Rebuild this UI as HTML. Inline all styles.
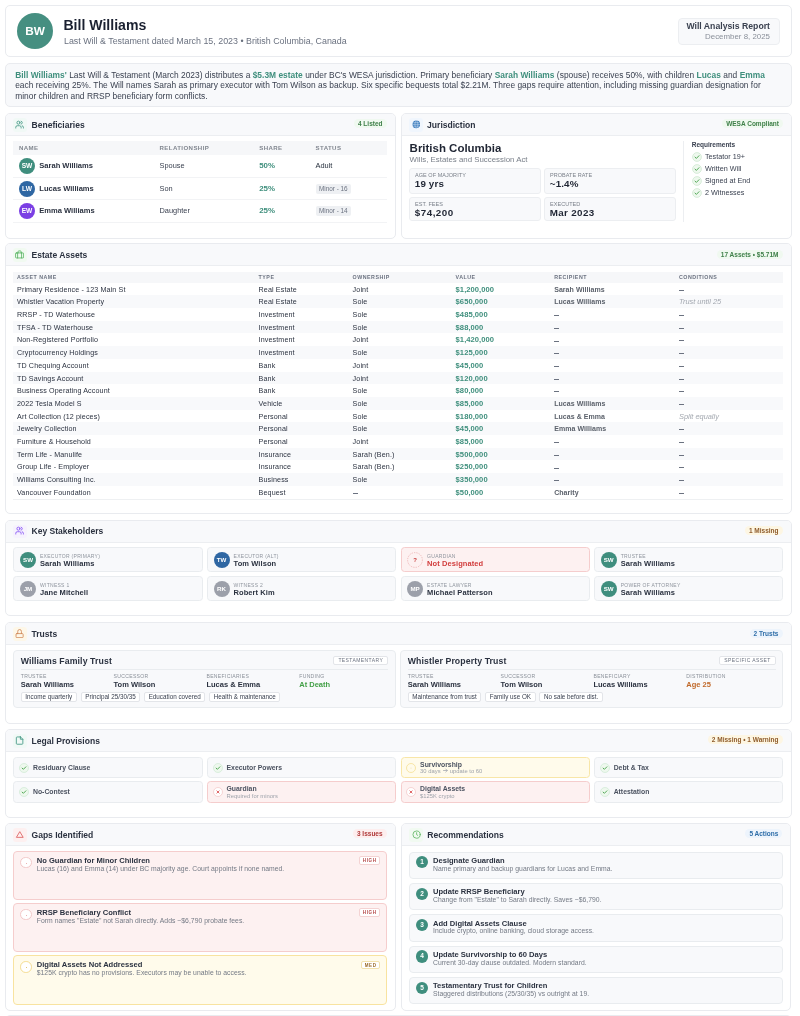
<!DOCTYPE html>
<html><head><meta charset="utf-8">
<style>
*{box-sizing:border-box;margin:0;padding:0}
html,body{width:800px;height:1016px;overflow:hidden;background:#fff}
body{font-family:"Liberation Sans",sans-serif;color:#1f2937;position:relative;will-change:transform}
.card{position:absolute;background:#fff;border:1px solid #e9ebef;border-radius:5px;overflow:hidden}
.ch{position:absolute;left:0;right:0;top:0;height:21.9px;background:#f8f9fb;border-bottom:1px solid #eceef1}
.ch .ic{position:absolute;left:6.6px;top:4.1px;width:14px;height:13.5px;border-radius:3px}
.ch .ic svg{position:absolute;left:2.1px;top:1.7px;width:9.2px;height:9.2px}
.ch .tt{position:absolute;left:25.5px;top:-0.45px;line-height:22px;font-size:8.55px;font-weight:bold;color:#2b3240}
.badge{position:absolute;right:8px;top:5.2px;height:9px;line-height:9px;border-radius:5px;font-size:6.5px;font-weight:bold;padding:0 4px}
.abs{position:absolute;white-space:nowrap}
.gp{position:absolute;left:7.25px;width:373.65px;height:49.3px;border:1px solid #f5cdcd;background:#fdf1f1;border-radius:4px;white-space:nowrap}
.gp.y{background:#fffbeb;border-color:#f8e3a0}
.gp .gc{position:absolute;left:6px;top:4.7px;width:11.6px;height:11.6px;border-radius:50%;background:#fff;border:0.8px solid #f3c9c9}
.gp.y .gc{border-color:#f5dd92}
.gp .gc i{position:absolute;left:4.9px;top:4.9px;width:1px;height:1px;border-radius:50%;background:#e79a9a}
.gp.y .gc i{background:#d9b24a}
.gt{position:absolute;left:22.5px;top:3.5px;line-height:10px;font-size:7.59px;font-weight:bold;color:#2b3240}
.gs{position:absolute;left:22.5px;top:12.5px;line-height:8px;font-size:6.8px;letter-spacing:0.03px;color:#747a85}
.gp .gb{position:absolute;right:5.5px;top:4.3px;height:8.4px;line-height:7px;padding:0 2.8px;background:#fff;border:0.7px solid #f4d3d3;border-radius:2px;font-size:4.5px;font-weight:bold;letter-spacing:0.64px;color:#b54848}
.gp.y .gb{border-color:#f3e2ad;color:#9a6a2a}
.rc{position:absolute;left:7.6px;width:374px;height:27.6px;background:#f8f9fb;border:1px solid #e9ecef;border-radius:4px;white-space:nowrap}
.rc .rn{position:absolute;left:5.5px;top:3.8px;width:12.2px;height:12.2px;border-radius:50%;background:#3f8e7e;color:#fff;font-size:6.5px;font-weight:bold;line-height:12.2px;text-align:center}
.rc .gt{left:22.6px;top:3.4px}
.rc .gs{left:22.6px;top:12.3px}

.lg{position:absolute;width:189.3px;height:21.2px;background:#f8f9fb;border:1px solid #e9ecef;border-radius:3.5px;white-space:nowrap}
.lg svg{position:absolute;left:4.6px;top:4.6px}
.lg .t1{position:absolute;left:18.6px;top:0;line-height:19.2px;font-size:6.85px;font-weight:bold;color:#4b5260}
.lg .t2{position:absolute;left:18.6px;top:2.0px;line-height:9px;font-size:6.85px;font-weight:bold;color:#4b5260}
.lg .s2{position:absolute;left:18.6px;top:10.5px;line-height:7px;font-size:5.85px;color:#9ea3ab}
.lg.r{background:#fdf1f1;border-color:#f5cdcd}
.lg.y{background:#fffbeb;border-color:#f8e6a8}

.tb{position:absolute;top:27.1px;height:57.3px;background:#f8f9fb;border:1px solid #e9ecef;border-radius:4px;white-space:nowrap}
.tb .tt2{position:absolute;left:6.5px;top:4.3px;line-height:11px;font-size:8.73px;letter-spacing:0.1px;font-weight:bold;color:#2b3240}
.tb .tbadge{position:absolute;right:6.4px;top:4.8px;height:9px;line-height:7.6px;padding:0 4.2px;background:#fff;border:0.7px solid #e3e5e9;border-radius:2px;font-size:5px;letter-spacing:0.42px;color:#6b7280}
.tb .tdiv{position:absolute;left:6.5px;right:6.4px;top:17.2px;height:0.8px;background:#e9ecef}
.tb .tl{position:absolute;top:21.5px;line-height:6.5px;font-size:5.1px;letter-spacing:0.3px;color:#8a9099}
.tb .tv{position:absolute;top:28.2px;line-height:10px;font-size:7.5px;font-weight:bold;color:#2b3240}
.tb .tags{position:absolute;left:6.5px;top:41px;height:9.2px;display:flex;gap:3.8px}
.tb .tags span{display:block;height:9.2px;line-height:8px;padding:0 3.6px;background:#fff;border:0.7px solid #e3e5e9;border-radius:2px;font-size:6.3px;color:#3a4150}

.sk{position:absolute;width:189.3px;height:25.2px;background:#f8f9fb;border:1px solid #e9ecef;border-radius:3.5px;white-space:nowrap}
.sk .av{position:absolute;left:5.6px;top:3.7px;width:16px;height:16px;border-radius:50%;color:#fff;font-size:6.2px;font-weight:bold;line-height:16px;text-align:center}
.sk .lb{position:absolute;left:25.6px;top:4.4px;line-height:7px;font-size:5.0px;letter-spacing:0.28px;color:#8f959e}
.sk .nm{position:absolute;left:25.6px;top:10.3px;line-height:9px;font-size:7.5px;letter-spacing:0.08px;font-weight:bold;color:#2b3240}
.sk.red{background:#fdf1f1;border-color:#f5cdcd}
.sk.red .nm{color:#d13c3c}
.sk .av.q{background:none;color:#c73b3b;font-size:6px;line-height:16px}

.eth{position:absolute;top:27.6px;line-height:10.7px;font-size:5.3px;font-weight:bold;letter-spacing:0.5px;color:#6b7280;white-space:nowrap}
.erow{position:absolute;left:7px;width:770px;height:12.7px;white-space:nowrap}
.erow div{position:absolute;top:0;line-height:14.3px;font-size:7.15px;letter-spacing:0.12px;color:#2b3240}
.erow .c1{left:4px}.erow .c2{left:245.6px}.erow .c3{left:339.6px}
.erow .c4{left:442.6px;font-weight:bold;color:#3f8f7d;font-size:7.6px;letter-spacing:0.05px}
.erow .c5{left:541.2px;font-weight:bold;color:#5b616b;font-size:7.0px;letter-spacing:0.05px}
.erow .c6{left:666px}
.erow .it{font-style:italic;color:#a3a8b0;font-size:7.4px;letter-spacing:0}
.dsh{display:inline-block;width:5px;height:0.8px;background:#6b7280;vertical-align:middle;position:relative;top:0.3px}

.sbox{position:absolute;width:131.2px;background:#f8f9fb;border:1px solid #eceef1;border-radius:3px}
.sbox .sl{position:absolute;left:4.6px;top:1.9px;font-size:5.5px;letter-spacing:0.05px;color:#7a808a;line-height:8px;white-space:nowrap}
.sbox .sv{position:absolute;left:4.4px;top:8.9px;font-size:9.8px;letter-spacing:0.15px;font-weight:bold;color:#1f2533;line-height:11px;white-space:nowrap}
.req{position:absolute;left:290px;height:10px;white-space:nowrap}
.req svg{position:absolute;left:0;top:0}
.req span{position:absolute;left:13.4px;top:0;line-height:10px;font-size:7.23px;color:#3a4150}

.th{position:absolute;white-space:nowrap;font-size:6.1px;letter-spacing:0.4px;color:#80868f;font-weight:bold}
.brow{position:absolute;left:7px;width:374px;height:22.5px;border-bottom:1px solid #f2f3f5}
.brow .av{position:absolute;left:6px;top:3.2px;width:16px;height:16px;border-radius:50%;color:#fff;font-size:6.6px;font-weight:bold;line-height:16px;text-align:center}
.brow .nm{position:absolute;left:26.3px;top:0;line-height:22px;font-size:7.55px;font-weight:bold;color:#2b3240;white-space:nowrap}
.brow .rel{position:absolute;left:146.5px;top:0;line-height:22px;font-size:7.4px;color:#3a4150;white-space:nowrap}
.brow .sh{position:absolute;left:246.2px;top:0;line-height:22px;font-size:7.9px;font-weight:bold;color:#3f8f7d;white-space:nowrap}
.brow .st{position:absolute;left:302.5px;top:0;line-height:22px;font-size:7.4px;color:#1f2937;white-space:nowrap}
.brow .pill{position:absolute;left:302.5px;top:6.3px;height:9.5px;line-height:10.6px;padding:0 3.4px;border-radius:2px;background:#eef0f3;font-size:6.4px;color:#6b7280;white-space:nowrap}

</style></head><body>

<!-- Header -->
<div class="card" style="left:5px;top:4.5px;width:786.5px;height:52.5px;">
  <div class="abs" style="left:11px;top:7.5px;width:36px;height:36px;border-radius:50%;background:#468f81;color:#fff;font-weight:bold;font-size:11.8px;line-height:36px;text-align:center;">BW</div>
  <div class="abs" style="left:57.4px;top:11.6px;font-size:14.1px;font-weight:bold;color:#1a2030;line-height:16px">Bill Williams</div>
  <div class="abs" style="left:58px;top:30px;font-size:8.9px;color:#6b7280;line-height:10px">Last Will &amp; Testament dated March 15, 2023 • British Columbia, Canada</div>
  <div class="abs" style="left:672px;top:12px;width:102px;height:27px;background:#f8f9fb;border:1px solid #eceef1;border-radius:4px;">
    <div class="abs" style="right:9px;top:2.8px;font-size:8.7px;font-weight:bold;color:#3a4150;line-height:10px">Will Analysis Report</div>
    <div class="abs" style="right:9px;top:13px;font-size:7.9px;color:#8a909a;line-height:9px">December 8, 2025</div>
  </div>
</div>

<!-- Summary -->
<div class="card" style="left:5px;top:63.3px;width:786.5px;height:44px;background:#f8f9fb;">
  <div class="abs" style="left:9.2px;top:5.9px;width:764px;white-space:normal;font-size:8.4px;letter-spacing:0.025px;line-height:10.3px;color:#3a4150">
  <b style="color:#3f8f7d">Bill Williams'</b> Last Will &amp; Testament (March 2023) distributes a <b style="color:#3f8f7d">$5.3M estate</b> under BC's WESA jurisdiction. Primary beneficiary <b style="color:#3f8f7d">Sarah Williams</b> (spouse) receives 50%, with children <b style="color:#3f8f7d">Lucas</b> and <b style="color:#3f8f7d">Emma</b> each receiving 25%. The Will names Sarah as primary executor with Tom Wilson as backup. Six specific bequests total $2.21M. Three gaps require attention, including missing guardian designation for minor children and RRSP beneficiary form conflicts.
  </div>
</div>

<!-- BENEFICIARIES -->
<div class="card" style="left:5px;top:113.3px;width:390.5px;height:125.6px;" id="ben">
  <div class="ch"><div class="ic" style="background:#f1f9f6"><svg viewBox="0 0 24 24" fill="none" stroke="#4f9e8c" stroke-width="2.4" stroke-linecap="round" stroke-linejoin="round"><path d="M16 21v-2a4 4 0 0 0-4-4H6a4 4 0 0 0-4 4v2"/><circle cx="9" cy="7" r="4"/><path d="M22 21v-2a4 4 0 0 0-3-3.87"/><path d="M16 3.13a4 4 0 0 1 0 7.75"/></svg></div><div class="tt">Beneficiaries</div>
  <div class="badge" style="background:#f0f9f0;color:#3f8049">4 Listed</div></div>

  <div class="abs" style="left:7px;top:27px;width:374px;height:13.5px;background:#f6f7f9;"></div>
  <div class="th" style="left:13px;top:27px;line-height:13.5px">NAME</div>
  <div class="th" style="left:153.5px;top:27px;line-height:13.5px">RELATIONSHIP</div>
  <div class="th" style="left:253.2px;top:27px;line-height:13.5px">SHARE</div>
  <div class="th" style="left:309.5px;top:27px;line-height:13.5px">STATUS</div>
  <div class="brow" style="top:40.4px;height:23.2px"><div class="av" style="background:#3f8e7e">SW</div><div class="nm">Sarah Williams</div><div class="rel">Spouse</div><div class="sh">50%</div><div class="st">Adult</div></div>
  <div class="brow" style="top:63.6px;height:22.2px"><div class="av" style="background:#2f67a3">LW</div><div class="nm">Lucas Williams</div><div class="rel">Son</div><div class="sh">25%</div><div class="pill">Minor - 16</div></div>
  <div class="brow" style="top:85.8px;height:22.6px"><div class="av" style="background:#7b3fe4">EW</div><div class="nm">Emma Williams</div><div class="rel">Daughter</div><div class="sh">25%</div><div class="pill">Minor - 14</div></div>
</div>

<!-- JURISDICTION -->
<div class="card" style="left:400.6px;top:113.3px;width:391.4px;height:125.6px;" id="jur">
  <div class="ch"><div class="ic" style="background:#f0f6fd;left:7.4px"><svg viewBox="0 0 24 24" style="left:2.7px;top:2px;width:8.8px;height:8.8px"><circle cx="12" cy="12" r="10.5" fill="#3f7fc0"/><g stroke="#dce9f7" stroke-width="1.3" fill="none"><path d="M1.5 12h21"/><path d="M3.5 7.2h17M3.5 16.8h17"/><path d="M12 1.5c-3 3-4 6.5-4 10.5s1 7.5 4 10.5c3-3 4-6.5 4-10.5s-1-7.5-4-10.5z"/></g></svg></div><div class="tt">Jurisdiction</div>
  <div class="badge" style="background:#f0f9f0;color:#3f8049">WESA Compliant</div></div>

  <div class="abs" style="left:8px;top:26.5px;font-size:11.47px;font-weight:bold;color:#1f2533;line-height:14px">British Columbia</div>
  <div class="abs" style="left:8px;top:41.2px;font-size:7.86px;color:#7a808a;line-height:10px">Wills, Estates and Succession Act</div>
  <div class="sbox" style="left:7.8px;top:54.1px;height:25.2px"><div class="sl">AGE OF MAJORITY</div><div class="sv">19 yrs</div></div>
  <div class="sbox" style="left:142.8px;top:54.1px;height:25.2px"><div class="sl">PROBATE RATE</div><div class="sv">~1.4%</div></div>
  <div class="sbox" style="left:7.8px;top:83.1px;height:24px"><div class="sl" style="top:1.4px">EST. FEES</div><div class="sv" style="top:8.2px;letter-spacing:0.5px">$74,200</div></div>
  <div class="sbox" style="left:142.8px;top:83.1px;height:24px"><div class="sl" style="top:1.4px">EXECUTED</div><div class="sv" style="top:8.2px;letter-spacing:0.35px">Mar 2023</div></div>
  <div class="abs" style="left:281.5px;top:26.7px;width:1px;height:81px;background:#eceef1"></div>
  <div class="abs" style="left:290.2px;top:27.2px;font-size:6.5px;font-weight:bold;color:#3a4150;line-height:8px">Requirements</div>
  <div class="req" style="top:38.2px"><svg viewBox="0 0 10 10" width="10" height="10"><circle cx="5" cy="5" r="4.4" fill="#eef8ee" stroke="#cfe9d2" stroke-width="0.8"/><path d="M3 5.1 L4.4 6.4 L7 3.7" fill="none" stroke="#43a047" stroke-width="0.9" stroke-linecap="round" stroke-linejoin="round"/></svg><span>Testator 19+</span></div>
  <div class="req" style="top:50.2px"><svg viewBox="0 0 10 10" width="10" height="10"><circle cx="5" cy="5" r="4.4" fill="#eef8ee" stroke="#cfe9d2" stroke-width="0.8"/><path d="M3 5.1 L4.4 6.4 L7 3.7" fill="none" stroke="#43a047" stroke-width="0.9" stroke-linecap="round" stroke-linejoin="round"/></svg><span>Written Will</span></div>
  <div class="req" style="top:62.2px"><svg viewBox="0 0 10 10" width="10" height="10"><circle cx="5" cy="5" r="4.4" fill="#eef8ee" stroke="#cfe9d2" stroke-width="0.8"/><path d="M3 5.1 L4.4 6.4 L7 3.7" fill="none" stroke="#43a047" stroke-width="0.9" stroke-linecap="round" stroke-linejoin="round"/></svg><span>Signed at End</span></div>
  <div class="req" style="top:73.9px"><svg viewBox="0 0 10 10" width="10" height="10"><circle cx="5" cy="5" r="4.4" fill="#eef8ee" stroke="#cfe9d2" stroke-width="0.8"/><path d="M3 5.1 L4.4 6.4 L7 3.7" fill="none" stroke="#43a047" stroke-width="0.9" stroke-linecap="round" stroke-linejoin="round"/></svg><span>2 Witnesses</span></div>
</div>

<!-- ESTATE -->
<div class="card" style="left:5px;top:243.4px;width:786.5px;height:270.4px;" id="est">
  <div class="ch"><div class="ic" style="background:#f1faf1"><svg viewBox="0 0 24 24" fill="none" stroke="#4caf58" stroke-width="2" stroke-linecap="round" stroke-linejoin="round"><rect x="1.5" y="7.6" width="21" height="13.2" rx="2"/><path d="M8 7.6V4.4a2 2 0 0 1 2-2h4a2 2 0 0 1 2 2v3.2"/><path d="M6.8 7.6v13.2M17.2 7.6v13.2"/></svg></div><div class="tt">Estate Assets</div>
  <div class="badge" style="background:#f0f9f0;color:#3f8049">17 Assets • $5.71M</div></div>

  <div class="abs" style="left:7px;top:27.6px;width:770px;height:10.7px;background:#f6f7f9;"></div>
  <div class="eth" style="left:11px">ASSET NAME</div>
  <div class="eth" style="left:252.6px">TYPE</div>
  <div class="eth" style="left:346.6px">OWNERSHIP</div>
  <div class="eth" style="left:449.6px">VALUE</div>
  <div class="eth" style="left:548.2px">RECIPIENT</div>
  <div class="eth" style="left:673px">CONDITIONS</div>
  <div class="erow" style="top:38.3px;"><div class="c1">Primary Residence - 123 Main St</div><div class="c2">Real Estate</div><div class="c3">Joint</div><div class="c4">$1,200,000</div><div class="c5">Sarah Williams</div><div class="c6"><i class="dsh"></i></div></div>
  <div class="erow" style="top:51.0px;background:#f8f9fb;"><div class="c1">Whistler Vacation Property</div><div class="c2">Real Estate</div><div class="c3">Sole</div><div class="c4">$650,000</div><div class="c5">Lucas Williams</div><div class="c6 it">Trust until 25</div></div>
  <div class="erow" style="top:63.7px;"><div class="c1">RRSP - TD Waterhouse</div><div class="c2">Investment</div><div class="c3">Sole</div><div class="c4">$485,000</div><div class="c5"><i class="dsh"></i></div><div class="c6"><i class="dsh"></i></div></div>
  <div class="erow" style="top:76.4px;background:#f8f9fb;"><div class="c1">TFSA - TD Waterhouse</div><div class="c2">Investment</div><div class="c3">Sole</div><div class="c4">$88,000</div><div class="c5"><i class="dsh"></i></div><div class="c6"><i class="dsh"></i></div></div>
  <div class="erow" style="top:89.1px;"><div class="c1">Non-Registered Portfolio</div><div class="c2">Investment</div><div class="c3">Joint</div><div class="c4">$1,420,000</div><div class="c5"><i class="dsh"></i></div><div class="c6"><i class="dsh"></i></div></div>
  <div class="erow" style="top:101.8px;background:#f8f9fb;"><div class="c1">Cryptocurrency Holdings</div><div class="c2">Investment</div><div class="c3">Sole</div><div class="c4">$125,000</div><div class="c5"><i class="dsh"></i></div><div class="c6"><i class="dsh"></i></div></div>
  <div class="erow" style="top:114.5px;"><div class="c1">TD Chequing Account</div><div class="c2">Bank</div><div class="c3">Joint</div><div class="c4">$45,000</div><div class="c5"><i class="dsh"></i></div><div class="c6"><i class="dsh"></i></div></div>
  <div class="erow" style="top:127.2px;background:#f8f9fb;"><div class="c1">TD Savings Account</div><div class="c2">Bank</div><div class="c3">Joint</div><div class="c4">$120,000</div><div class="c5"><i class="dsh"></i></div><div class="c6"><i class="dsh"></i></div></div>
  <div class="erow" style="top:139.9px;"><div class="c1">Business Operating Account</div><div class="c2">Bank</div><div class="c3">Sole</div><div class="c4">$80,000</div><div class="c5"><i class="dsh"></i></div><div class="c6"><i class="dsh"></i></div></div>
  <div class="erow" style="top:152.6px;background:#f8f9fb;"><div class="c1">2022 Tesla Model S</div><div class="c2">Vehicle</div><div class="c3">Sole</div><div class="c4">$85,000</div><div class="c5">Lucas Williams</div><div class="c6"><i class="dsh"></i></div></div>
  <div class="erow" style="top:165.3px;"><div class="c1">Art Collection (12 pieces)</div><div class="c2">Personal</div><div class="c3">Sole</div><div class="c4">$180,000</div><div class="c5">Lucas &amp; Emma</div><div class="c6 it">Split equally</div></div>
  <div class="erow" style="top:178.0px;background:#f8f9fb;"><div class="c1">Jewelry Collection</div><div class="c2">Personal</div><div class="c3">Sole</div><div class="c4">$45,000</div><div class="c5">Emma Williams</div><div class="c6"><i class="dsh"></i></div></div>
  <div class="erow" style="top:190.7px;"><div class="c1">Furniture &amp; Household</div><div class="c2">Personal</div><div class="c3">Joint</div><div class="c4">$85,000</div><div class="c5"><i class="dsh"></i></div><div class="c6"><i class="dsh"></i></div></div>
  <div class="erow" style="top:203.4px;background:#f8f9fb;"><div class="c1">Term Life - Manulife</div><div class="c2">Insurance</div><div class="c3">Sarah (Ben.)</div><div class="c4">$500,000</div><div class="c5"><i class="dsh"></i></div><div class="c6"><i class="dsh"></i></div></div>
  <div class="erow" style="top:216.1px;"><div class="c1">Group Life - Employer</div><div class="c2">Insurance</div><div class="c3">Sarah (Ben.)</div><div class="c4">$250,000</div><div class="c5"><i class="dsh"></i></div><div class="c6"><i class="dsh"></i></div></div>
  <div class="erow" style="top:228.8px;background:#f8f9fb;"><div class="c1">Williams Consulting Inc.</div><div class="c2">Business</div><div class="c3">Sole</div><div class="c4">$350,000</div><div class="c5"><i class="dsh"></i></div><div class="c6"><i class="dsh"></i></div></div>
  <div class="erow" style="top:241.5px;"><div class="c1">Vancouver Foundation</div><div class="c2">Bequest</div><div class="c3"><i class="dsh"></i></div><div class="c4">$50,000</div><div class="c5">Charity</div><div class="c6"><i class="dsh"></i></div></div>
  <div class="abs" style="left:7px;top:254.2px;width:770px;height:1px;background:#eef0f2"></div>
</div>

<!-- STAKEHOLDERS -->
<div class="card" style="left:5px;top:519.7px;width:786.5px;height:96.5px;" id="stk">
  <div class="ch"><div class="ic" style="background:#f6f2fd"><svg viewBox="0 0 24 24" fill="none" stroke="#8b5cf6" stroke-width="2.4" stroke-linecap="round" stroke-linejoin="round"><path d="M16 21v-2a4 4 0 0 0-4-4H6a4 4 0 0 0-4 4v2"/><circle cx="9" cy="7" r="4"/><path d="M22 21v-2a4 4 0 0 0-3-3.87"/><path d="M16 3.13a4 4 0 0 1 0 7.75"/></svg></div><div class="tt">Key Stakeholders</div>
  <div class="badge" style="background:#fdf6e3;color:#8f5c2c">1 Missing</div></div>
  <div class="sk" style="left:7.40px;top:26.6px"><div class="av" style="background:#3f8e7e">SW</div><div class="lb">EXECUTOR (PRIMARY)</div><div class="nm">Sarah Williams</div></div>
  <div class="sk" style="left:200.95px;top:26.6px"><div class="av" style="background:#2f67a3">TW</div><div class="lb">EXECUTOR (ALT)</div><div class="nm">Tom Wilson</div></div>
  <div class="sk red" style="left:394.50px;top:26.6px"><div class="av q"><svg width="16" height="16" viewBox="0 0 16 16" style="position:absolute;left:0;top:0"><circle cx="8" cy="8" r="7.4" fill="#fdf1f1" stroke="#eba7a7" stroke-width="0.7" stroke-dasharray="1.3 1.1"/></svg><span style="position:relative">?</span></div><div class="lb">GUARDIAN</div><div class="nm">Not Designated</div></div>
  <div class="sk" style="left:588.05px;top:26.6px"><div class="av" style="background:#3f8e7e">SW</div><div class="lb">TRUSTEE</div><div class="nm">Sarah Williams</div></div>
  <div class="sk" style="left:7.40px;top:55.6px"><div class="av" style="background:#9ca0aa">JM</div><div class="lb">WITNESS 1</div><div class="nm">Jane Mitchell</div></div>
  <div class="sk" style="left:200.95px;top:55.6px"><div class="av" style="background:#9ca0aa">RK</div><div class="lb">WITNESS 2</div><div class="nm">Robert Kim</div></div>
  <div class="sk" style="left:394.50px;top:55.6px"><div class="av" style="background:#9ca0aa">MP</div><div class="lb">ESTATE LAWYER</div><div class="nm">Michael Patterson</div></div>
  <div class="sk" style="left:588.05px;top:55.6px"><div class="av" style="background:#3f8e7e">SW</div><div class="lb">POWER OF ATTORNEY</div><div class="nm">Sarah Williams</div></div>
</div>

<!-- TRUSTS -->
<div class="card" style="left:5px;top:622.4px;width:786.5px;height:101.2px;" id="tru">
  <div class="ch"><div class="ic" style="background:#fdf7e8"><svg viewBox="0 0 24 24" fill="none" stroke="#cf8552" stroke-width="2.1" stroke-linecap="round" stroke-linejoin="round"><rect x="2.7" y="12" width="18.6" height="10.6" rx="2.2"/><path d="M7.2 12V6.2a4.8 4.8 0 0 1 9.6 0V12"/></svg></div><div class="tt">Trusts</div>
  <div class="badge" style="background:#edf4fc;color:#2f6ea8">2 Trusts</div></div>
  <div class="tb" style="left:7.25px;width:382.5px">
    <div class="tt2">Williams Family Trust</div><div class="tbadge">TESTAMENTARY</div><div class="tdiv"></div>
    <div class="tl" style="left:6.5px">TRUSTEE</div><div class="tv" style="left:6.5px">Sarah Williams</div>
    <div class="tl" style="left:99.3px">SUCCESSOR</div><div class="tv" style="left:99.3px">Tom Wilson</div>
    <div class="tl" style="left:192.2px">BENEFICIARIES</div><div class="tv" style="left:192.2px">Lucas &amp; Emma</div>
    <div class="tl" style="left:285.0px">FUNDING</div><div class="tv" style="left:285.0px;color:#43a047">At Death</div>
    <div class="tags"><span>Income quarterly</span><span>Principal 25/30/35</span><span>Education covered</span><span>Health &amp; maintenance</span></div>
  </div>
  <div class="tb" style="left:394.25px;width:383.1px">
    <div class="tt2">Whistler Property Trust</div><div class="tbadge">SPECIFIC ASSET</div><div class="tdiv"></div>
    <div class="tl" style="left:6.5px">TRUSTEE</div><div class="tv" style="left:6.5px">Sarah Williams</div>
    <div class="tl" style="left:99.3px">SUCCESSOR</div><div class="tv" style="left:99.3px">Tom Wilson</div>
    <div class="tl" style="left:192.2px">BENEFICIARY</div><div class="tv" style="left:192.2px">Lucas Williams</div>
    <div class="tl" style="left:285.0px">DISTRIBUTION</div><div class="tv" style="left:285.0px;color:#c0692a">Age 25</div>
    <div class="tags"><span>Maintenance from trust</span><span>Family use OK</span><span>No sale before dist.</span></div>
  </div>
</div>

<!-- LEGAL -->
<div class="card" style="left:5px;top:729.3px;width:786.5px;height:88.6px;" id="leg">
  <div class="ch"><div class="ic" style="background:#f1f9f6"><svg viewBox="0 0 24 24" fill="none" stroke="#4f9e8c" stroke-width="2.4" stroke-linecap="round" stroke-linejoin="round"><path d="M14.5 2.5H5.5a2 2 0 0 0-2 2v15a2 2 0 0 0 2 2h13a2 2 0 0 0 2-2V8.5L14.5 2.5z"/><path d="M14 2.5v6h6.5"/></svg></div><div class="tt">Legal Provisions</div>
  <div class="badge" style="background:#fdf6e3;color:#8f5c2c">2 Missing • 1 Warning</div></div>
  <div class="lg" style="left:7.40px;top:26.7px"><svg viewBox="0 0 10 10" width="10" height="10"><circle cx="5" cy="5" r="4.5" fill="#eef8ee" stroke="#cfe9d2" stroke-width="0.7"/><path d="M3.1 5.1 L4.4 6.3 L6.9 3.8" fill="none" stroke="#43a047" stroke-width="0.9" stroke-linecap="round" stroke-linejoin="round"/></svg><div class="t1">Residuary Clause</div></div>
  <div class="lg" style="left:200.95px;top:26.7px"><svg viewBox="0 0 10 10" width="10" height="10"><circle cx="5" cy="5" r="4.5" fill="#eef8ee" stroke="#cfe9d2" stroke-width="0.7"/><path d="M3.1 5.1 L4.4 6.3 L6.9 3.8" fill="none" stroke="#43a047" stroke-width="0.9" stroke-linecap="round" stroke-linejoin="round"/></svg><div class="t1">Executor Powers</div></div>
  <div class="lg y" style="left:394.50px;top:26.7px"><svg viewBox="0 0 10 10" width="10" height="10"><circle cx="5" cy="5" r="4.5" fill="#fffbea" stroke="#f3dc8a" stroke-width="0.7"/><circle cx="5" cy="5" r="0.35" fill="#c99a2e"/></svg><div class="t2">Survivorship</div><div class="s2">30 days <svg width="5" height="5" viewBox="0 0 10 10" style="display:inline-block;vertical-align:0px;position:static;margin:0 0.5px"><path d="M1 5H8.5M5.5 2L8.5 5L5.5 8" fill="none" stroke="#a0a5ad" stroke-width="1.5" stroke-linecap="round" stroke-linejoin="round"/></svg> update to 60</div></div>
  <div class="lg" style="left:588.05px;top:26.7px"><svg viewBox="0 0 10 10" width="10" height="10"><circle cx="5" cy="5" r="4.5" fill="#eef8ee" stroke="#cfe9d2" stroke-width="0.7"/><path d="M3.1 5.1 L4.4 6.3 L6.9 3.8" fill="none" stroke="#43a047" stroke-width="0.9" stroke-linecap="round" stroke-linejoin="round"/></svg><div class="t1">Debt &amp; Tax</div></div>
  <div class="lg" style="left:7.40px;top:51.1px"><svg viewBox="0 0 10 10" width="10" height="10"><circle cx="5" cy="5" r="4.5" fill="#eef8ee" stroke="#cfe9d2" stroke-width="0.7"/><path d="M3.1 5.1 L4.4 6.3 L6.9 3.8" fill="none" stroke="#43a047" stroke-width="0.9" stroke-linecap="round" stroke-linejoin="round"/></svg><div class="t1">No-Contest</div></div>
  <div class="lg r" style="left:200.95px;top:51.1px"><svg viewBox="0 0 10 10" width="10" height="10"><circle cx="5" cy="5" r="4.5" fill="#fff" stroke="#f2c4c4" stroke-width="0.7"/><path d="M3.9 3.9 L6.1 6.1 M6.1 3.9 L3.9 6.1" fill="none" stroke="#d84343" stroke-width="0.8" stroke-linecap="round"/></svg><div class="t2">Guardian</div><div class="s2">Required for minors</div></div>
  <div class="lg r" style="left:394.50px;top:51.1px"><svg viewBox="0 0 10 10" width="10" height="10"><circle cx="5" cy="5" r="4.5" fill="#fff" stroke="#f2c4c4" stroke-width="0.7"/><path d="M3.9 3.9 L6.1 6.1 M6.1 3.9 L3.9 6.1" fill="none" stroke="#d84343" stroke-width="0.8" stroke-linecap="round"/></svg><div class="t2">Digital Assets</div><div class="s2">$125K crypto</div></div>
  <div class="lg" style="left:588.05px;top:51.1px"><svg viewBox="0 0 10 10" width="10" height="10"><circle cx="5" cy="5" r="4.5" fill="#eef8ee" stroke="#cfe9d2" stroke-width="0.7"/><path d="M3.1 5.1 L4.4 6.3 L6.9 3.8" fill="none" stroke="#43a047" stroke-width="0.9" stroke-linecap="round" stroke-linejoin="round"/></svg><div class="t1">Attestation</div></div>
</div>

<!-- GAPS -->
<div class="card" style="left:5px;top:823px;width:390.6px;height:187.5px;" id="gap">
  <div class="ch"><div class="ic" style="background:#fdf0f0"><svg viewBox="0 0 24 24" fill="none" stroke="#de6464" stroke-width="2.3" stroke-linecap="round" stroke-linejoin="round"><path d="M12 5.2L3.6 19.2H20.4Z"/></svg></div><div class="tt">Gaps Identified</div>
  <div class="badge" style="background:#fdeeee;color:#b03a3a">3 Issues</div></div>
  <div class="gp r" style="top:27.00px"><div class="gc"><i></i></div><div class="gt">No Guardian for Minor Children</div><div class="gs">Lucas (16) and Emma (14) under BC majority age. Court appoints if none named.</div><div class="gb">HIGH</div></div>
  <div class="gp r" style="top:79.20px"><div class="gc"><i></i></div><div class="gt">RRSP Beneficiary Conflict</div><div class="gs">Form names "Estate" not Sarah directly. Adds ~$6,790 probate fees.</div><div class="gb">HIGH</div></div>
  <div class="gp y" style="top:131.40px"><div class="gc"><i></i></div><div class="gt">Digital Assets Not Addressed</div><div class="gs">$125K crypto has no provisions. Executors may be unable to access.</div><div class="gb">MED</div></div>
</div>

<!-- RECS -->
<div class="card" style="left:400.8px;top:823px;width:390.6px;height:187.5px;" id="rec">
  <div class="ch"><div class="ic" style="background:#f1faf1;left:7.5px"><svg viewBox="0 0 24 24" style="left:2.5px;top:2.1px" fill="none" stroke="#62b865" stroke-width="2.2" stroke-linecap="round" stroke-linejoin="round"><circle cx="12" cy="12" r="9.5"/><path d="M12 7v5l3 2"/></svg></div><div class="tt">Recommendations</div>
  <div class="badge" style="background:#edf4fc;color:#2f6ea8">5 Actions</div></div>
  <div class="rc" style="top:27.50px"><div class="rn">1</div><div class="gt">Designate Guardian</div><div class="gs">Name primary and backup guardians for Lucas and Emma.</div></div>
  <div class="rc" style="top:58.85px"><div class="rn">2</div><div class="gt">Update RRSP Beneficiary</div><div class="gs">Change from "Estate" to Sarah directly. Saves ~$6,790.</div></div>
  <div class="rc" style="top:90.20px"><div class="rn">3</div><div class="gt">Add Digital Assets Clause</div><div class="gs">Include crypto, online banking, cloud storage access.</div></div>
  <div class="rc" style="top:121.55px"><div class="rn">4</div><div class="gt">Update Survivorship to 60 Days</div><div class="gs">Current 30-day clause outdated. Modern standard.</div></div>
  <div class="rc" style="top:152.90px"><div class="rn">5</div><div class="gt">Testamentary Trust for Children</div><div class="gs">Staggered distributions (25/30/35) vs outright at 19.</div></div>
</div>

<div class="card" style="left:5px;top:1015px;width:786.5px;height:40px;"></div>

</body></html>
